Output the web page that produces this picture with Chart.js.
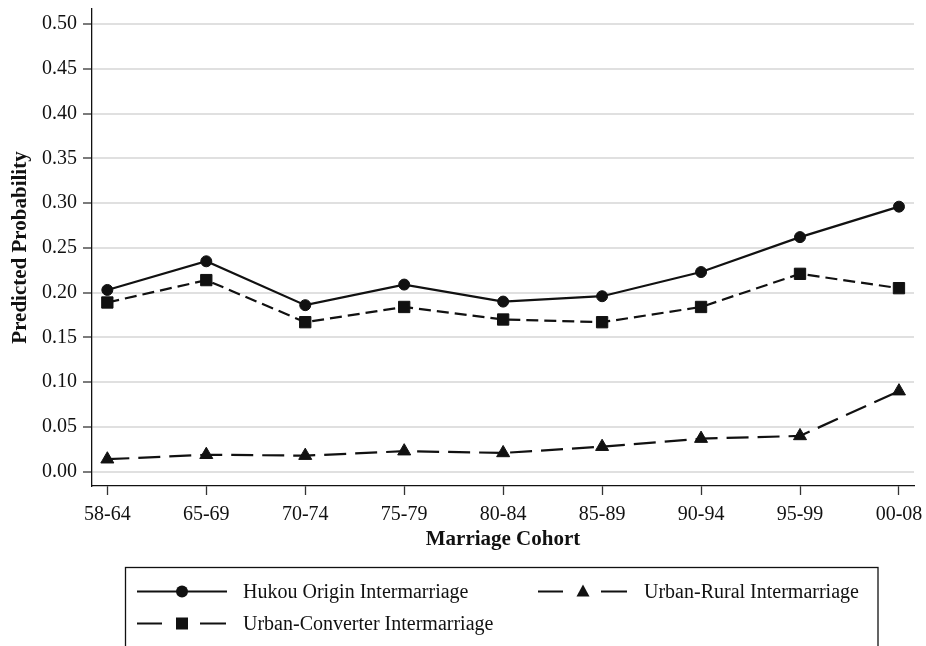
<!DOCTYPE html>
<html lang="en">
<head>
  <meta charset="UTF-8">
  <title>Predicted Probability by Marriage Cohort</title>
  <script src="https://cdn.jsdelivr.net/npm/chart.js"></script>
  <style>
    * {
      box-sizing: border-box;
      margin: 0;
      padding: 0;
    }

    body {
      background: #fff;
    }

    .chart-wrap {
      width: 926px;
      height: 646px;
    }
  </style>
</head>
<body>
  <div class="chart-wrap">
    <canvas id="probChart" width="926" height="646"></canvas>
  </div>

  <script>
    const cohorts = ['58-64', '65-69', '70-74', '75-79', '80-84', '85-89', '90-94', '95-99', '00-08'];
    const hukouOrigin = [0.203, 0.235, 0.186, 0.209, 0.190, 0.196, 0.223, 0.262, 0.296];
    const urbanConverter = [0.189, 0.214, 0.167, 0.184, 0.170, 0.167, 0.184, 0.221, 0.205];
    const urbanRural = [0.014, 0.019, 0.018, 0.023, 0.021, 0.028, 0.037, 0.040, 0.090];
    const yTicks = [0, 0.05, 0.10, 0.15, 0.20, 0.25, 0.30, 0.35, 0.40, 0.45, 0.50];

    const serif = "'Liberation Serif', 'Times New Roman', serif";
    const ink = '#111';

    function toPoints(values) {
      return values.map((v, i) => ({ x: i, y: v }));
    }

    // legend box drawn on the canvas, below the x axis
    const boxLegend = {
      id: 'boxLegend',
      afterDraw(chart) {
        const ctx = chart.ctx;
        ctx.save();
        ctx.strokeStyle = ink;
        ctx.lineWidth = 1.3;
        ctx.strokeRect(125.5, 567.5, 752.5, 100);

        const entries = [
          { label: 'Hukou Origin Intermarriage', x: 137, y: 591.5, style: 'circle', solid: true },
          { label: 'Urban-Rural Intermarriage', x: 538, y: 591.5, style: 'triangle', solid: false },
          { label: 'Urban-Converter Intermarriage', x: 137, y: 623.5, style: 'rect', solid: false }
        ];

        entries.forEach(e => {
          ctx.lineWidth = 2;
          ctx.strokeStyle = ink;
          ctx.beginPath();
          if (e.solid) {
            ctx.moveTo(e.x, e.y);
            ctx.lineTo(e.x + 90, e.y);
          } else {
            ctx.moveTo(e.x, e.y);
            ctx.lineTo(e.x + 25, e.y);
            ctx.moveTo(e.x + 63, e.y);
            ctx.lineTo(e.x + 89, e.y);
          }
          ctx.stroke();
          drawMarker(ctx, e.style, e.x + 45, e.y);
          ctx.fillStyle = ink;
          ctx.font = '20px ' + serif;
          ctx.textAlign = 'left';
          ctx.textBaseline = 'middle';
          ctx.fillText(e.label, e.x + 106, e.y + 1);
        });
        ctx.restore();
      }
    };

    function drawMarker(ctx, style, x, y) {
      ctx.fillStyle = ink;
      ctx.beginPath();
      if (style === 'circle') {
        ctx.arc(x, y, 6, 0, Math.PI * 2);
      } else if (style === 'rect') {
        ctx.rect(x - 6, y - 6, 12, 12);
      } else {
        ctx.moveTo(x, y - 7);
        ctx.lineTo(x + 6.5, y + 5);
        ctx.lineTo(x - 6.5, y + 5);
        ctx.closePath();
      }
      ctx.fill();
    }

    const ctx = document.getElementById('probChart').getContext('2d');
    new Chart(ctx, {
      type: 'line',
      data: {
        datasets: [
          {
            label: 'Hukou Origin Intermarriage',
            data: toPoints(hukouOrigin),
            borderColor: ink,
            backgroundColor: ink,
            borderWidth: 2.2,
            pointStyle: 'circle',
            pointRadius: 5.5,
            pointBorderWidth: 1
          },
          {
            label: 'Urban-Converter Intermarriage',
            data: toPoints(urbanConverter),
            borderColor: ink,
            backgroundColor: ink,
            borderWidth: 2.2,
            borderDash: [12, 6],
            pointStyle: 'rect',
            pointRadius: 8,
            pointBorderWidth: 1
          },
          {
            label: 'Urban-Rural Intermarriage',
            data: toPoints(urbanRural),
            borderColor: ink,
            backgroundColor: ink,
            borderWidth: 2.2,
            borderDash: [22, 9],
            pointStyle: 'triangle',
            pointRadius: 7.5,
            pointBorderWidth: 1
          }
        ]
      },
      options: {
        responsive: false,
        animation: false,
        layout: {
          padding: { top: 7, right: 12, bottom: 90, left: 0 }
        },
        plugins: {
          legend: { display: false },
          tooltip: { enabled: false }
        },
        scales: {
          x: {
            type: 'linear',
            min: -0.155,
            max: 8.152,
            afterBuildTicks: scale => {
              scale.ticks = cohorts.map((c, i) => ({ value: i }));
            },
            afterFit: scale => {
              scale.height = 70;
              scale.paddingLeft = 0;
              scale.paddingRight = 0;
            },
            ticks: {
              callback: value => cohorts[value],
              color: ink,
              font: { family: serif, size: 20 },
              padding: 8,
              maxRotation: 0,
              autoSkip: false
            },
            grid: {
              drawOnChartArea: false,
              drawTicks: true,
              tickLength: 9,
              tickColor: '#333',
              tickWidth: 1.3
            },
            border: { color: ink, width: 1.3 },
            title: {
              display: true,
              text: 'Marriage Cohort',
              color: ink,
              font: { family: serif, size: 21, weight: 'bold' },
              padding: { top: 0, bottom: 4 }
            }
          },
          y: {
            min: -0.0159,
            max: 0.5167,
            afterBuildTicks: scale => {
              scale.ticks = yTicks.map(v => ({ value: v }));
            },
            afterFit: scale => {
              scale.width = 92;
              scale.paddingTop = 0;
              scale.paddingBottom = 0;
            },
            ticks: {
              callback: value => value.toFixed(2),
              color: ink,
              font: { family: serif, size: 20 },
              padding: 6
            },
            grid: {
              color: '#e0e0e0',
              lineWidth: 2,
              tickLength: 9,
              tickColor: '#333',
              tickWidth: 1.3
            },
            border: { color: ink, width: 1.3 },
            title: {
              display: true,
              text: 'Predicted Probability',
              color: ink,
              font: { family: serif, size: 21, weight: 'bold' },
              padding: { top: 8, bottom: 0 }
            }
          }
        }
      },
      plugins: [boxLegend]
    });
  </script>
</body>
</html>
